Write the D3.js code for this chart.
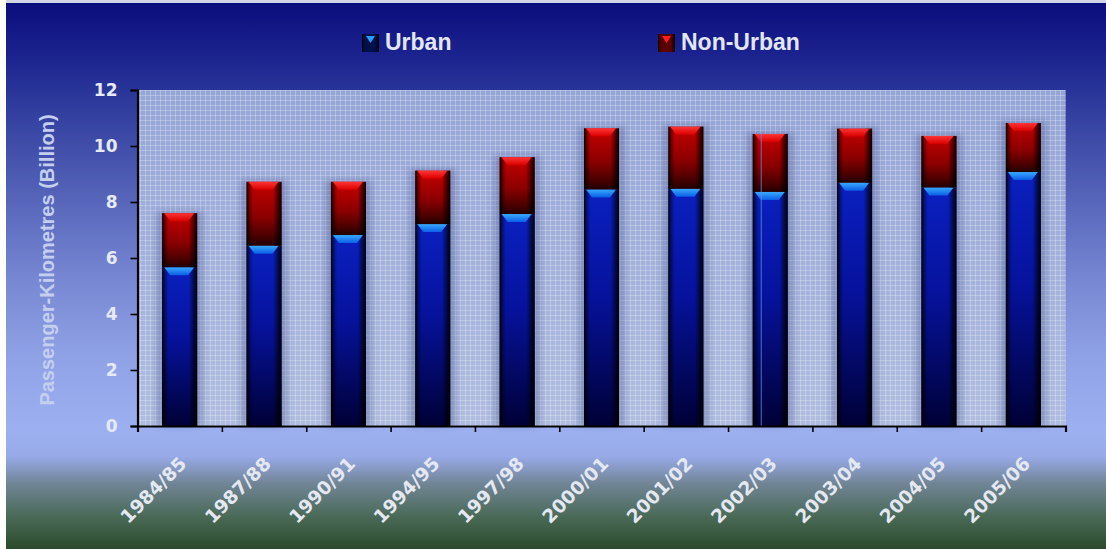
<!DOCTYPE html>
<html>
<head>
<meta charset="utf-8">
<script src="https://cdn.jsdelivr.net/npm/d3@7"></script>
<style>
  html, body { margin: 0; padding: 0; background: #ffffff; }
  svg { display: block; }
</style>
</head>
<body>
<svg id="chart" width="1106" height="549"></svg>
<script>
// Passenger-kilometres (billion) by year, split into urban and non-urban travel
const categories = ["1984/85", "1987/88", "1990/91", "1994/95", "1997/98", "2000/01",
                    "2001/02", "2002/03", "2003/04", "2004/05", "2005/06"];
const urban    = [5.67, 6.44, 6.82, 7.21, 7.57, 8.45, 8.47, 8.36, 8.69, 8.52, 9.07];
const nonUrban = [1.93, 2.28, 1.90, 1.91, 2.03, 2.18, 2.22, 2.07, 1.93, 1.84, 1.75];
const yTicks = [0, 2, 4, 6, 8, 10, 12];
const seriesNames = ["Urban", "Non-Urban"];

const W = 1106, H = 549;
const plot = { left: 137.5, right: 1065.5, top: 90, bottom: 426 };

const svg = d3.select("#chart");
const defs = svg.append("defs");

// ---- gradients -------------------------------------------------------
function linear(id, x2, y2, stops) {
  const g = defs.append("linearGradient").attr("id", id)
    .attr("x1", 0).attr("y1", 0).attr("x2", x2).attr("y2", y2);
  stops.forEach(s => g.append("stop").attr("offset", s[0])
    .attr("stop-color", s[1]).attr("stop-opacity", s[2] === undefined ? 1 : s[2]));
  return g;
}

linear("bgGrad", 0, 1, [
  [0.00, "#0a0d7c"], [0.10, "#1c248f"], [0.20, "#323f9f"], [0.35, "#5463b8"],
  [0.50, "#7686d2"], [0.65, "#90a2e6"], [0.78, "#9cb0f1"], [0.83, "#98aae8"],
  [0.88, "#718596"], [0.94, "#4a6a58"], [1.00, "#2b4b2b"]
]);
linear("plotGrad", 0, 1, [[0, "#95a5d6"], [1, "#b0bde0"]]);
linear("urbanBody", 0, 1, [[0, "#0a20c0"], [0.45, "#06129c"], [1, "#000036"]]);
linear("nonUrbanBody", 0, 1, [[0, "#c80000"], [0.55, "#8a0000"], [0.85, "#4a0000"], [1, "#220000"]]);
linear("urbanCap", 0, 1, [[0, "#38aaff"], [1, "#0a5ee6"]]);
linear("nonUrbanCap", 0, 1, [[0, "#ff3434"], [1, "#d80000"]]);
linear("edges", 1, 0, [
  [0, "#000", 0.95], [0.09, "#000", 0.35], [0.18, "#000", 0],
  [0.76, "#000", 0], [0.88, "#000", 0.5], [1, "#000", 0.95]
]);

// fine grid texture of the plotting area
const pat = defs.append("pattern").attr("id", "gridTex")
  .attr("patternUnits", "userSpaceOnUse").attr("width", 5).attr("height", 5);
pat.append("rect").attr("width", 5).attr("height", 1).attr("fill", "#ffffff").attr("opacity", 0.25);
pat.append("rect").attr("width", 1).attr("height", 5).attr("fill", "#ffffff").attr("opacity", 0.25);

const blur = defs.append("filter").attr("id", "soft")
  .attr("x", "-50%").attr("y", "-10%").attr("width", "200%").attr("height", "120%");
blur.append("feGaussianBlur").attr("stdDeviation", 3);

// ---- background ------------------------------------------------------
svg.append("rect").attr("x", 6).attr("y", 3).attr("width", W - 6).attr("height", H - 3)
  .attr("fill", "url(#bgGrad)");
svg.append("rect").attr("x", 6).attr("y", 0).attr("width", W - 6).attr("height", 3)
  .attr("fill", "#d2d5e6");

svg.append("rect").attr("x", plot.left).attr("y", plot.top)
  .attr("width", plot.right - plot.left).attr("height", plot.bottom - plot.top)
  .attr("fill", "url(#plotGrad)");
svg.append("rect").attr("x", plot.left).attr("y", plot.top)
  .attr("width", plot.right - plot.left).attr("height", plot.bottom - plot.top)
  .attr("fill", "url(#gridTex)");

// ---- scales ----------------------------------------------------------
const x = d3.scaleBand().domain(categories)
  .range([plot.left, plot.right]).paddingInner(0.585).paddingOuter(0.2925);
const y = d3.scaleLinear().domain([0, 12]).range([plot.bottom, plot.top]);
const xEdges = d3.scaleLinear().domain([0, categories.length]).range([plot.left, plot.right]);

const table = categories.map((c, i) => ({ cat: c, "Urban": urban[i], "Non-Urban": nonUrban[i] }));
const stacked = d3.stack().keys(seriesNames)(table);

// ---- bar shadows -----------------------------------------------------
svg.append("g").selectAll("rect").data(table).join("rect")
  .attr("x", d => x(d.cat) - 6)
  .attr("y", d => y(d["Urban"] + d["Non-Urban"]) - 2)
  .attr("width", x.bandwidth() + 12)
  .attr("height", d => plot.bottom - y(d["Urban"] + d["Non-Urban"]) + 2)
  .attr("fill", "#4d5c94").attr("opacity", 0.4).attr("filter", "url(#soft)");

// ---- bars ------------------------------------------------------------
const bodyFill = { "Urban": "url(#urbanBody)", "Non-Urban": "url(#nonUrbanBody)" };
const capFill = { "Urban": "url(#urbanCap)", "Non-Urban": "url(#nonUrbanCap)" };

stacked.forEach(layer => {
  const g = svg.append("g").attr("class", "series-" + layer.key);
  const segs = layer.map(d => ({ cat: d.data.cat, y0: d[0], y1: d[1] }));
  g.selectAll("rect.body").data(segs).join("rect").attr("class", "body")
    .attr("x", d => x(d.cat)).attr("y", d => y(d.y1))
    .attr("width", x.bandwidth()).attr("height", d => y(d.y0) - y(d.y1))
    .attr("fill", bodyFill[layer.key]);
  g.selectAll("rect.edge").data(segs).join("rect").attr("class", "edge")
    .attr("x", d => x(d.cat)).attr("y", d => y(d.y1))
    .attr("width", x.bandwidth()).attr("height", d => y(d.y0) - y(d.y1))
    .attr("fill", "url(#edges)");
  g.selectAll("path.cap").data(segs).join("path").attr("class", "cap")
    .attr("d", d => {
      const x0 = x(d.cat), x1 = x0 + x.bandwidth(), t = y(d.y1);
      return `M${x0 + 2},${t}L${x1 - 3},${t}L${x1 - 9},${t + 8}L${x0 + 8},${t + 8}Z`;
    })
    .attr("fill", capFill[layer.key]);
});

// thin highlight streak down the 2002/03 column
{
  const i = categories.indexOf("2002/03");
  svg.append("line")
    .attr("x1", x(categories[i]) + 8.5).attr("x2", x(categories[i]) + 8.5)
    .attr("y1", y(urban[i] + nonUrban[i])).attr("y2", plot.bottom)
    .attr("stroke", "#5b8de8").attr("stroke-width", 1).attr("opacity", 0.8);
}

// ---- axes ------------------------------------------------------------
const yAxis = svg.append("g").attr("transform", `translate(${plot.left},0)`)
  .call(d3.axisLeft(y).tickValues(yTicks).tickSize(7).tickPadding(13).tickFormat(d3.format("d")));
yAxis.select(".domain").attr("stroke", "#000").attr("stroke-width", 2.2);
yAxis.selectAll(".tick line").attr("stroke", "#000").attr("stroke-width", 1.6);
yAxis.selectAll(".tick text")
  .attr("fill", "#e6eaf6").style("font-family", "'DejaVu Sans', sans-serif")
  .style("font-weight", "bold").style("font-size", "17px");

const xAxis = svg.append("g").attr("transform", `translate(0,${plot.bottom})`)
  .call(d3.axisBottom(xEdges).tickValues(d3.range(categories.length + 1)).tickSize(6).tickFormat(""));
xAxis.select(".domain").attr("stroke", "#000").attr("stroke-width", 2.2);
xAxis.selectAll(".tick line").attr("stroke", "#000").attr("stroke-width", 1.6);

svg.append("g").selectAll("text").data(categories).join("text")
  .attr("transform", d => `translate(${x(d) + x.bandwidth() / 2 + 8},${plot.bottom + 39}) rotate(-45)`)
  .attr("text-anchor", "end")
  .attr("fill", "#e4e8f2")
  .style("font-family", "'DejaVu Sans', sans-serif")
  .style("font-weight", "bold").style("font-size", "18.5px")
  .text(d => d);

// axis title
svg.append("text")
  .attr("transform", `translate(54,${(plot.top + plot.bottom) / 2 + 2}) rotate(-90)`)
  .attr("text-anchor", "middle")
  .attr("fill", "#c4cff0")
  .style("font-family", "'Liberation Sans', Arial, sans-serif")
  .style("font-weight", "bold").style("font-size", "20px")
  .text("Passenger-Kilometres (Billion)");

// ---- legend ----------------------------------------------------------
const legendItems = [
  { name: "Urban", body: "#00104a", cap: "#2a9cff", x: 362 },
  { name: "Non-Urban", body: "#5a0000", cap: "#ff2020", x: 658 }
];
const lg = svg.append("g").selectAll("g").data(legendItems).join("g")
  .attr("transform", d => `translate(${d.x},34)`);
lg.append("rect").attr("width", 17).attr("height", 18).attr("fill", d => d.body);
lg.append("rect").attr("width", 17).attr("height", 18).attr("fill", "url(#edges)");
lg.append("path").attr("d", "M4,2L13,2L8.5,9Z").attr("fill", d => d.cap);
lg.append("text").attr("x", 23).attr("y", 16)
  .attr("fill", "#e2e6f6")
  .style("font-family", "'Liberation Sans', Arial, sans-serif")
  .style("font-weight", "bold").style("font-size", "23px")
  .text(d => d.name);
</script>
</body>
</html>
